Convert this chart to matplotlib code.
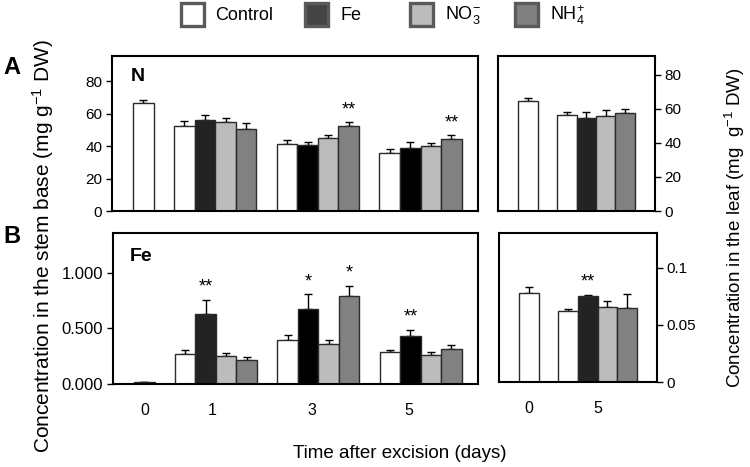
import matplotlib
matplotlib.use("Agg")
import matplotlib.pyplot as plt
import numpy as np
from matplotlib.patches import Rectangle

plt.rcParams['font.family'] = ['Liberation Sans', 'DejaVu Sans']
plt.rcParams['mathtext.default'] = 'regular'

# ---------------- data ----------------
series = ["Control", "Fe", "NO$_3^{-}$", "NH$_4^{+}$"]
stem_days = ["0", "1", "3", "5"]
leaf_days = ["0", "5"]

# N in stem base (mg g-1 DW); control includes day 0, treatments days 1,3,5
N_stem_control = [66.6, 52.3, 41.0, 35.5]
N_stem_control_err = [2.0, 3.0, 2.7, 2.7]
N_stem_fe = [56.0, 40.8, 38.6]
N_stem_fe_err = [3.0, 1.5, 3.9]
N_stem_no3 = [54.6, 44.9, 40.2]
N_stem_no3_err = [2.4, 1.9, 1.6]
N_stem_nh4 = [50.6, 52.3, 44.3]
N_stem_nh4_err = [3.3, 2.3, 2.3]
N_stem_nh4_sig = ["", "**", "**"]

# N in leaf; days 0, 5
N_leaf_control = [64.7, 56.3]
N_leaf_control_err = [1.6, 2.1]
N_leaf_fe = [54.5]
N_leaf_fe_err = [3.5]
N_leaf_no3 = [55.9]
N_leaf_no3_err = [3.3]
N_leaf_nh4 = [57.8]
N_leaf_nh4_err = [2.2]

# Fe in stem base
Fe_stem_control = [0.02, 0.268, 0.40, 0.285]
Fe_stem_control_err = [0.0, 0.035, 0.045, 0.018]
Fe_stem_fe = [0.628, 0.679, 0.432]
Fe_stem_fe_err = [0.13, 0.13, 0.054]
Fe_stem_fe_sig = ["**", "*", "**"]
Fe_stem_no3 = [0.255, 0.363, 0.258]
Fe_stem_no3_err = [0.025, 0.033, 0.03]
Fe_stem_nh4 = [0.216, 0.793, 0.315]
Fe_stem_nh4_err = [0.024, 0.09, 0.036]
Fe_stem_nh4_sig = ["", "*", ""]

# Fe in leaf
Fe_leaf_control = [0.078, 0.0623]
Fe_leaf_control_err = [0.005, 0.002]
Fe_leaf_fe = [0.0754]
Fe_leaf_fe_err = [0.0007]
Fe_leaf_fe_sig = ["**"]
Fe_leaf_no3 = [0.0658]
Fe_leaf_no3_err = [0.0055]
Fe_leaf_nh4 = [0.0652]
Fe_leaf_nh4_err = [0.012]

# ---------------- style ----------------
c_ctrl = "white"
c_no3 = "#bcbcbc"
c_nh4 = "#818181"
fe_colors_stem = ["#232323", "#000000", "#000000"]
fe_colors_leaf = ["#232323"]
edge = "#2a2a2a"

fig = plt.figure(figsize=(7.5, 4.67), dpi=100)
W, H = 750, 467


def ax_at(x0, y0, x1, y1):
    return fig.add_axes([x0 / W, 1 - y1 / H, (x1 - x0) / W, (y1 - y0) / H])


axA = ax_at(112, 56, 478, 211)
axAr = ax_at(498, 56, 655, 211)
axB = ax_at(113, 233, 478, 384)
axBr = ax_at(499, 233, 657, 382)


def positions(ngroups):
    ctrl = [0.5] + [2 + 5 * g + 0.5 for g in range(ngroups)]
    tr = [[2 + 5 * g + k + 0.5 for g in range(ngroups)] for k in (1, 2, 3)]
    centers = [0.5] + [2 + 5 * g + 2 for g in range(ngroups)]
    return ctrl, tr, centers


def draw(ax, ctrl, ctrl_err, fe, fe_err, no3, no3_err, nh4, nh4_err,
         fe_cols, sigs, ngroups):
    xc, xt, centers = positions(ngroups)
    vals = [ctrl, fe, no3, nh4]
    errs = [ctrl_err, fe_err, no3_err, nh4_err]
    xs = [xc] + xt
    cols = [[c_ctrl] * len(ctrl), fe_cols, [c_no3] * len(no3), [c_nh4] * len(nh4)]
    for x, v, e, c, s in zip(xs, vals, errs, cols, sigs):
        ax.bar(x, v, width=1.0, color=c, edgecolor=edge, linewidth=1.0, zorder=2)
        ax.errorbar(x, v, yerr=[np.zeros(len(e)), e], fmt='none', ecolor='black',
                    elinewidth=1.0, capsize=3, capthick=1.0, zorder=1)
        if s is not None:
            for xi, vi, ei, si in zip(x, v, e, s):
                if si:
                    ax.annotate(si, (xi, vi + ei), xytext=(0, 3),
                                textcoords='offset points', ha='center',
                                va='bottom', fontsize=13)
    return centers


cA = draw(axA, N_stem_control, N_stem_control_err, N_stem_fe, N_stem_fe_err,
          N_stem_no3, N_stem_no3_err, N_stem_nh4, N_stem_nh4_err,
          fe_colors_stem, [None, None, None, N_stem_nh4_sig], 3)
cAr = draw(axAr, N_leaf_control, N_leaf_control_err, N_leaf_fe, N_leaf_fe_err,
           N_leaf_no3, N_leaf_no3_err, N_leaf_nh4, N_leaf_nh4_err,
           fe_colors_leaf, [None, None, None, None], 1)
cB = draw(axB, Fe_stem_control, Fe_stem_control_err, Fe_stem_fe, Fe_stem_fe_err,
          Fe_stem_no3, Fe_stem_no3_err, Fe_stem_nh4, Fe_stem_nh4_err,
          fe_colors_stem, [None, Fe_stem_fe_sig, None, Fe_stem_nh4_sig], 3)
cBr = draw(axBr, Fe_leaf_control, Fe_leaf_control_err, Fe_leaf_fe, Fe_leaf_fe_err,
           Fe_leaf_no3, Fe_leaf_no3_err, Fe_leaf_nh4, Fe_leaf_nh4_err,
           fe_colors_leaf, [None, Fe_leaf_fe_sig, None, None], 1)

for ax in (axA, axB):
    ax.set_xlim(-1.03, 16.8)
for ax in (axAr, axBr):
    ax.set_xlim(-1.03, 7.03)

axA.set_ylim(0, 95.4)
axA.set_yticks([0, 20, 40, 60, 80])
axAr.set_ylim(0, 91)
axAr.set_yticks([0, 20, 40, 60, 80])
axB.set_ylim(0, 1.36)
axB.set_yticks([0, 0.5, 1.0])
axB.set_yticklabels(["0.000", "0.500", "1.000"])
axBr.set_ylim(0, 0.1304)
axBr.set_yticks([0, 0.05, 0.1])
axBr.set_yticklabels(["0", "0.05", "0.1"])

for ax in (axA, axAr, axB, axBr):
    for sp in ax.spines.values():
        sp.set_linewidth(1.5)
        sp.set_color('black')
    ax.tick_params(axis='y', direction='out', length=4, width=1.0,
                   labelsize=11, pad=3)
axB.tick_params(axis='y', labelsize=12)

for ax in (axAr, axBr):
    ax.yaxis.tick_right()

axA.set_xticks([])
axAr.set_xticks([])
# tick label positions as placed in the reference (slightly left of group centres)
axB.set_xticks([0.5, 3.8, 8.7, 13.4])
axB.set_xticklabels(stem_days)
axBr.set_xticks(cBr)
axBr.set_xticklabels(leaf_days)
for ax in (axB, axBr):
    ax.tick_params(axis='x', length=0, labelsize=11.5, pad=14)

axA.text(0.05, 0.92, "N", transform=axA.transAxes, fontsize=14,
         fontweight='bold', va='top', ha='left')
axB.text(0.045, 0.90, "Fe", transform=axB.transAxes, fontsize=14,
         fontweight='bold', va='top', ha='left')

fig.text(3 / W, 1 - 67 / H, "A", fontsize=17, fontweight='bold', va='center', ha='left')
fig.text(3 / W, 1 - 236 / H, "B", fontsize=17, fontweight='bold', va='center', ha='left')

fig.text(43 / W, 1 - 246 / H, "Concentration in the stem base (mg g$^{-1}$ DW)",
         rotation=90, va='center', ha='center', fontsize=15)
fig.text(735 / W, 1 - 228 / H, "Concentration in the leaf (mg  g$^{-1}$ DW)",
         rotation=90, va='center', ha='center', fontsize=13.5)
fig.text(400 / W, 1 - 453 / H, "Time after excision (days)",
         va='center', ha='center', fontsize=13.5)

# legend drawn manually to match the reference spacing
legend_fc = ["white", "#444444", "#bcbcbc", "#808080"]
box_x = [181, 305, 410, 515]
text_x = [215, 341, 445, 550]
for fc, bx, tx, lab in zip(legend_fc, box_x, text_x, series):
    fig.patches.append(Rectangle((bx / W, 1 - 26 / H), 23 / W, 23 / H,
                                 transform=fig.transFigure, facecolor=fc,
                                 edgecolor="#5a5a5a", linewidth=2.4))
    fig.text(tx / W, 1 - 15 / H, lab, fontsize=13, va='center', ha='left')

fig.savefig("out.png", dpi=100)
